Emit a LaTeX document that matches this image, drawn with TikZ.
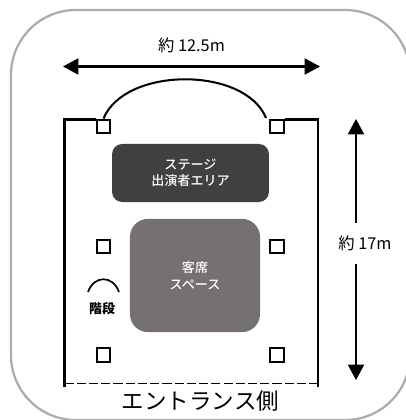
\documentclass[tikz,border=0pt]{standalone}
\usepackage{fontspec}
\setmainfont{Noto Sans CJK JP}
\newfontfamily\medfont{Noto Sans CJK JP Medium}
\usetikzlibrary{arrows.meta}
\definecolor{stagegray}{HTML}{404040}
\definecolor{seatgray}{HTML}{767171}
\definecolor{framegray}{HTML}{AFABAB}
\tikzset{
	wall/.style={line width=1.45pt},
	dim/.style={line width=1.45pt,-{Triangle[length=11pt,width=11.5pt]}},
	pillar/.style={draw,line width=1.45pt,fill=white,minimum size=0.345cm,inner sep=0pt},
	area/.style={text=white,align=center,font=\medfont\fontsize{9.3}{11.8}\selectfont,inner sep=0pt},
	label/.style={inner sep=0pt,font=\fontsize{11.6}{13}\selectfont}
}
\begin{document}
\begin{tikzpicture}[x=0.025cm,y=-0.025cm]
	\useasboundingbox (0,0) rectangle (406,420);
	\clip (0,0) rectangle (406,420);
	\draw[framegray,line width=1.6pt,rounded corners=1.62cm] (11,10) rectangle (410,420);
	\coordinate (WTL) at (64.5,119.5);
	\coordinate (WTR) at (318,119.5);
	\coordinate (WBL) at (64.5,387);
	\coordinate (WBR) at (318,387);
	\coordinate (DL) at (64.5,383);
	\coordinate (DR) at (318,383);
	\coordinate (HL) at (63,66.5);
	\coordinate (HR) at (320,66.5);
	\coordinate (VT) at (356,119);
	\coordinate (VB) at (356,380);
	\coordinate (SL) at (88,292);
	\coordinate (SR) at (119,292);
	\node[pillar] (P1) at (103.5,126.5) {};
	\node[pillar] (P2) at (277,126.5) {};
	\node[pillar] (P3) at (103.5,246.5) {};
	\node[pillar] (P4) at (277,246.5) {};
	\node[pillar] (P5) at (103.5,355) {};
	\node[pillar] (P6) at (277,355) {};
	\draw[wall] (WBL) -- (WTL) -- (P1.west |- WTL);
	\draw[wall] (P2.east |- WTR) -- (WTR) -- (WBR);
	\draw[wall] (P1.north) .. controls (125,66.3) and (245,66.3) .. (266,118);
	\draw[line width=0.7pt,dash pattern=on 6.5pt off 2.2pt] (DL) -- (DR);
	\node[fill=stagegray,rounded corners=0.25cm,minimum width=3.92cm,minimum height=1.45cm,area] (STAGE) at (190.5,173) {ステージ\\出演者エリア};
	\node[fill=seatgray,rounded corners=0.45cm,minimum width=3.25cm,minimum height=2.83cm,area] (SEAT) at (195,275.5) {客席\\スペース};
	\draw[line width=1.2pt] (SL) .. controls (94,275) and (113,275) .. (SR);
	\node[label,font=\fontsize{9.2}{10}\selectfont\bfseries] (STEP) at (102,309) {階段};
	\node[label] (WIDTH) at (191.5,45) {約 12.5m};
	\node[label] (DEPTH) at (365,243) {約 17m};
	\node[label,font=\fontsize{16}{18}\selectfont] (ENT) at (200.5,401.5) {エントランス側};
	\draw[dim,{Triangle[length=11pt,width=11.5pt]}-{Triangle[length=11pt,width=11.5pt]}] (HL) -- (HR);
	\draw[dim] (356,223) -- (VT);
	\draw[dim] (356,264) -- (VB);
\end{tikzpicture}
\end{document}
